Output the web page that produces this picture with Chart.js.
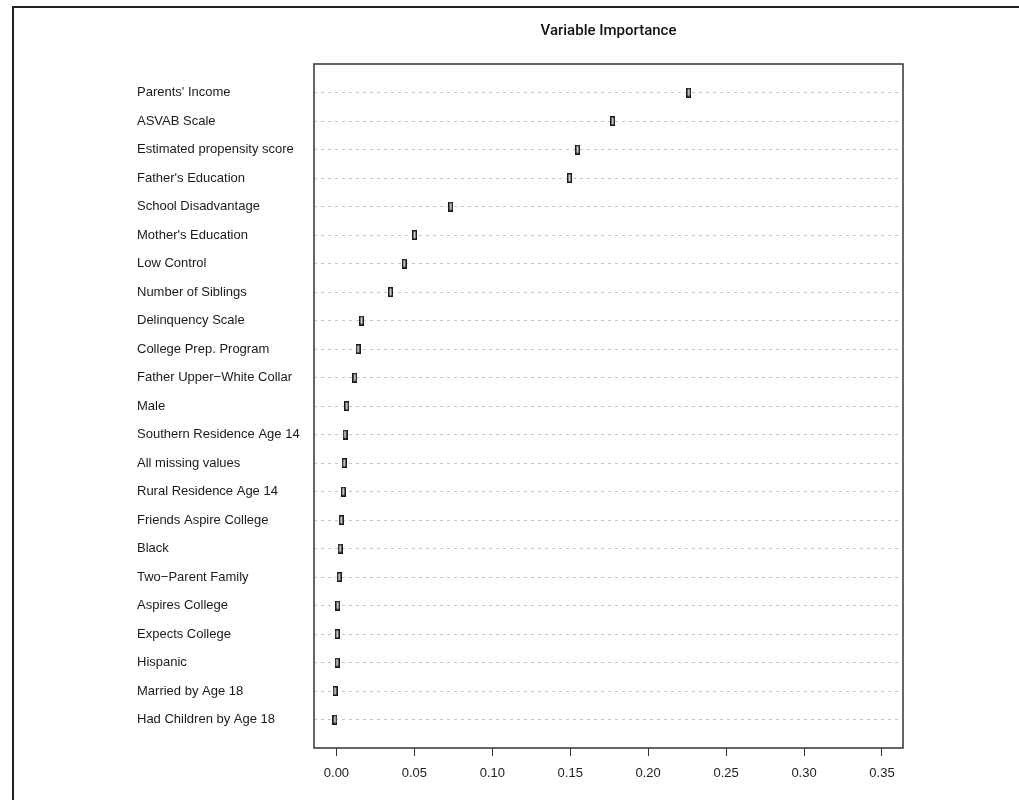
<!DOCTYPE html>
<html>
<head>
<meta charset="utf-8">
<script src="https://cdn.jsdelivr.net/npm/chart.js"></script>
<style>
  html, body { margin: 0; padding: 0; background: #fff; }
  #wrap { position: relative; width: 1019px; height: 800px; overflow: hidden; }
  #frame { position: absolute; left: 12px; top: 6px; width: 1100px; height: 900px;
           border-left: 2px solid #222; border-top: 2px solid #222; pointer-events: none; }
  canvas { position: absolute; left: 0; top: 0; }
</style>
</head>
<body>
<div id="wrap">
  <canvas id="vi" width="1019" height="800"></canvas>
  <div id="frame"></div>
</div>
<script>
// ===== データ =====
const variables = [
  "Parents' Income", 'ASVAB Scale', 'Estimated propensity score', "Father's Education",
  'School Disadvantage', "Mother's Education", 'Low Control', 'Number of Siblings',
  'Delinquency Scale', 'College Prep. Program', 'Father Upper\u2212White Collar', 'Male',
  'Southern Residence Age 14', 'All missing values', 'Rural Residence Age 14',
  'Friends Aspire College', 'Black', 'Two\u2212Parent Family', 'Aspires College',
  'Expects College', 'Hispanic', 'Married by Age 18', 'Had Children by Age 18'
];
const importance = [
  0.2260, 0.1772, 0.1547, 0.1495, 0.0733, 0.0501, 0.0435, 0.0347,
  0.0161, 0.0139, 0.0118, 0.0066, 0.0055, 0.0050, 0.0044, 0.0031,
  0.0024, 0.0018, 0.0008, 0.0005, 0.0004, -0.0009, -0.0010
];
const xTicks = [0.00, 0.05, 0.10, 0.15, 0.20, 0.25, 0.30, 0.35];
const chartTitle = 'Variable Importance';

// ===== マーカー（小さな縦長の四角） =====
function makeMarker() {
  const c = document.createElement('canvas');
  c.width = 5; c.height = 10;
  const g = c.getContext('2d');
  g.fillStyle = '#1a1a1a';
  g.fillRect(0, 0, 5, 10);
  g.fillStyle = '#d8d8d8';
  g.fillRect(1.5, 1.5, 2, 7);
  return c;
}

// ===== 枠とタイトル =====
const boxPlugin = {
  id: 'box',
  afterDraw(chart) {
    const { ctx, chartArea: a } = chart;
    ctx.save();
    ctx.strokeStyle = '#333';
    ctx.lineWidth = 1.5;
    ctx.strokeRect(a.left, a.top, a.right - a.left, a.bottom - a.top);
    ctx.fillStyle = '#111';
    ctx.font = '500 15px Roboto, "Liberation Sans", sans-serif';
    ctx.textAlign = 'center';
    ctx.textBaseline = 'middle';
    ctx.fillText(chartTitle, (a.left + a.right) / 2, 31);
    ctx.restore();
  }
};

const points = importance.map((v, i) => ({ x: v, y: i }));

new Chart(document.getElementById('vi'), {
  type: 'scatter',
  data: {
    datasets: [{
      data: points,
      pointStyle: makeMarker(),
      pointRadius: 5,
      pointHoverRadius: 5
    }]
  },
  options: {
    responsive: false,
    animation: false,
    layout: { padding: { left: 137, right: 116, top: 64, bottom: 0 } },
    plugins: { legend: { display: false }, tooltip: { enabled: false } },
    scales: {
      x: {
        type: 'linear',
        min: -0.0144,
        max: 0.3635,
        afterBuildTicks: (s) => { s.ticks = xTicks.map(v => ({ value: v })); },
        afterFit: (s) => { s.height = 52; },
        border: { display: false },
        grid: { drawOnChartArea: false, drawTicks: true, tickLength: 8, color: '#333', lineWidth: 1 },
        ticks: {
          padding: 10,
          color: '#222',
          font: { family: '"Liberation Sans", Arial, sans-serif', size: 13 },
          callback: (v) => Number(v).toFixed(2),
          maxRotation: 0
        }
      },
      y: {
        type: 'linear',
        reverse: true,
        min: -1,
        max: 23,
        afterBuildTicks: (s) => { s.ticks = variables.map((_, i) => ({ value: i })); },
        afterFit: (s) => { s.width = 177; },
        border: { display: false, dash: [3, 4] },
        grid: { drawTicks: false, tickLength: 0, color: '#c4c4c4', lineWidth: 1 },
        ticks: {
          crossAlign: 'far',
          autoSkip: false,
          color: '#1a1a1a',
          font: { family: '"Liberation Sans", Arial, sans-serif', size: 13 },
          callback: (v) => variables[v] || ''
        }
      }
    }
  },
  plugins: [boxPlugin]
});
</script>
</body>
</html>
